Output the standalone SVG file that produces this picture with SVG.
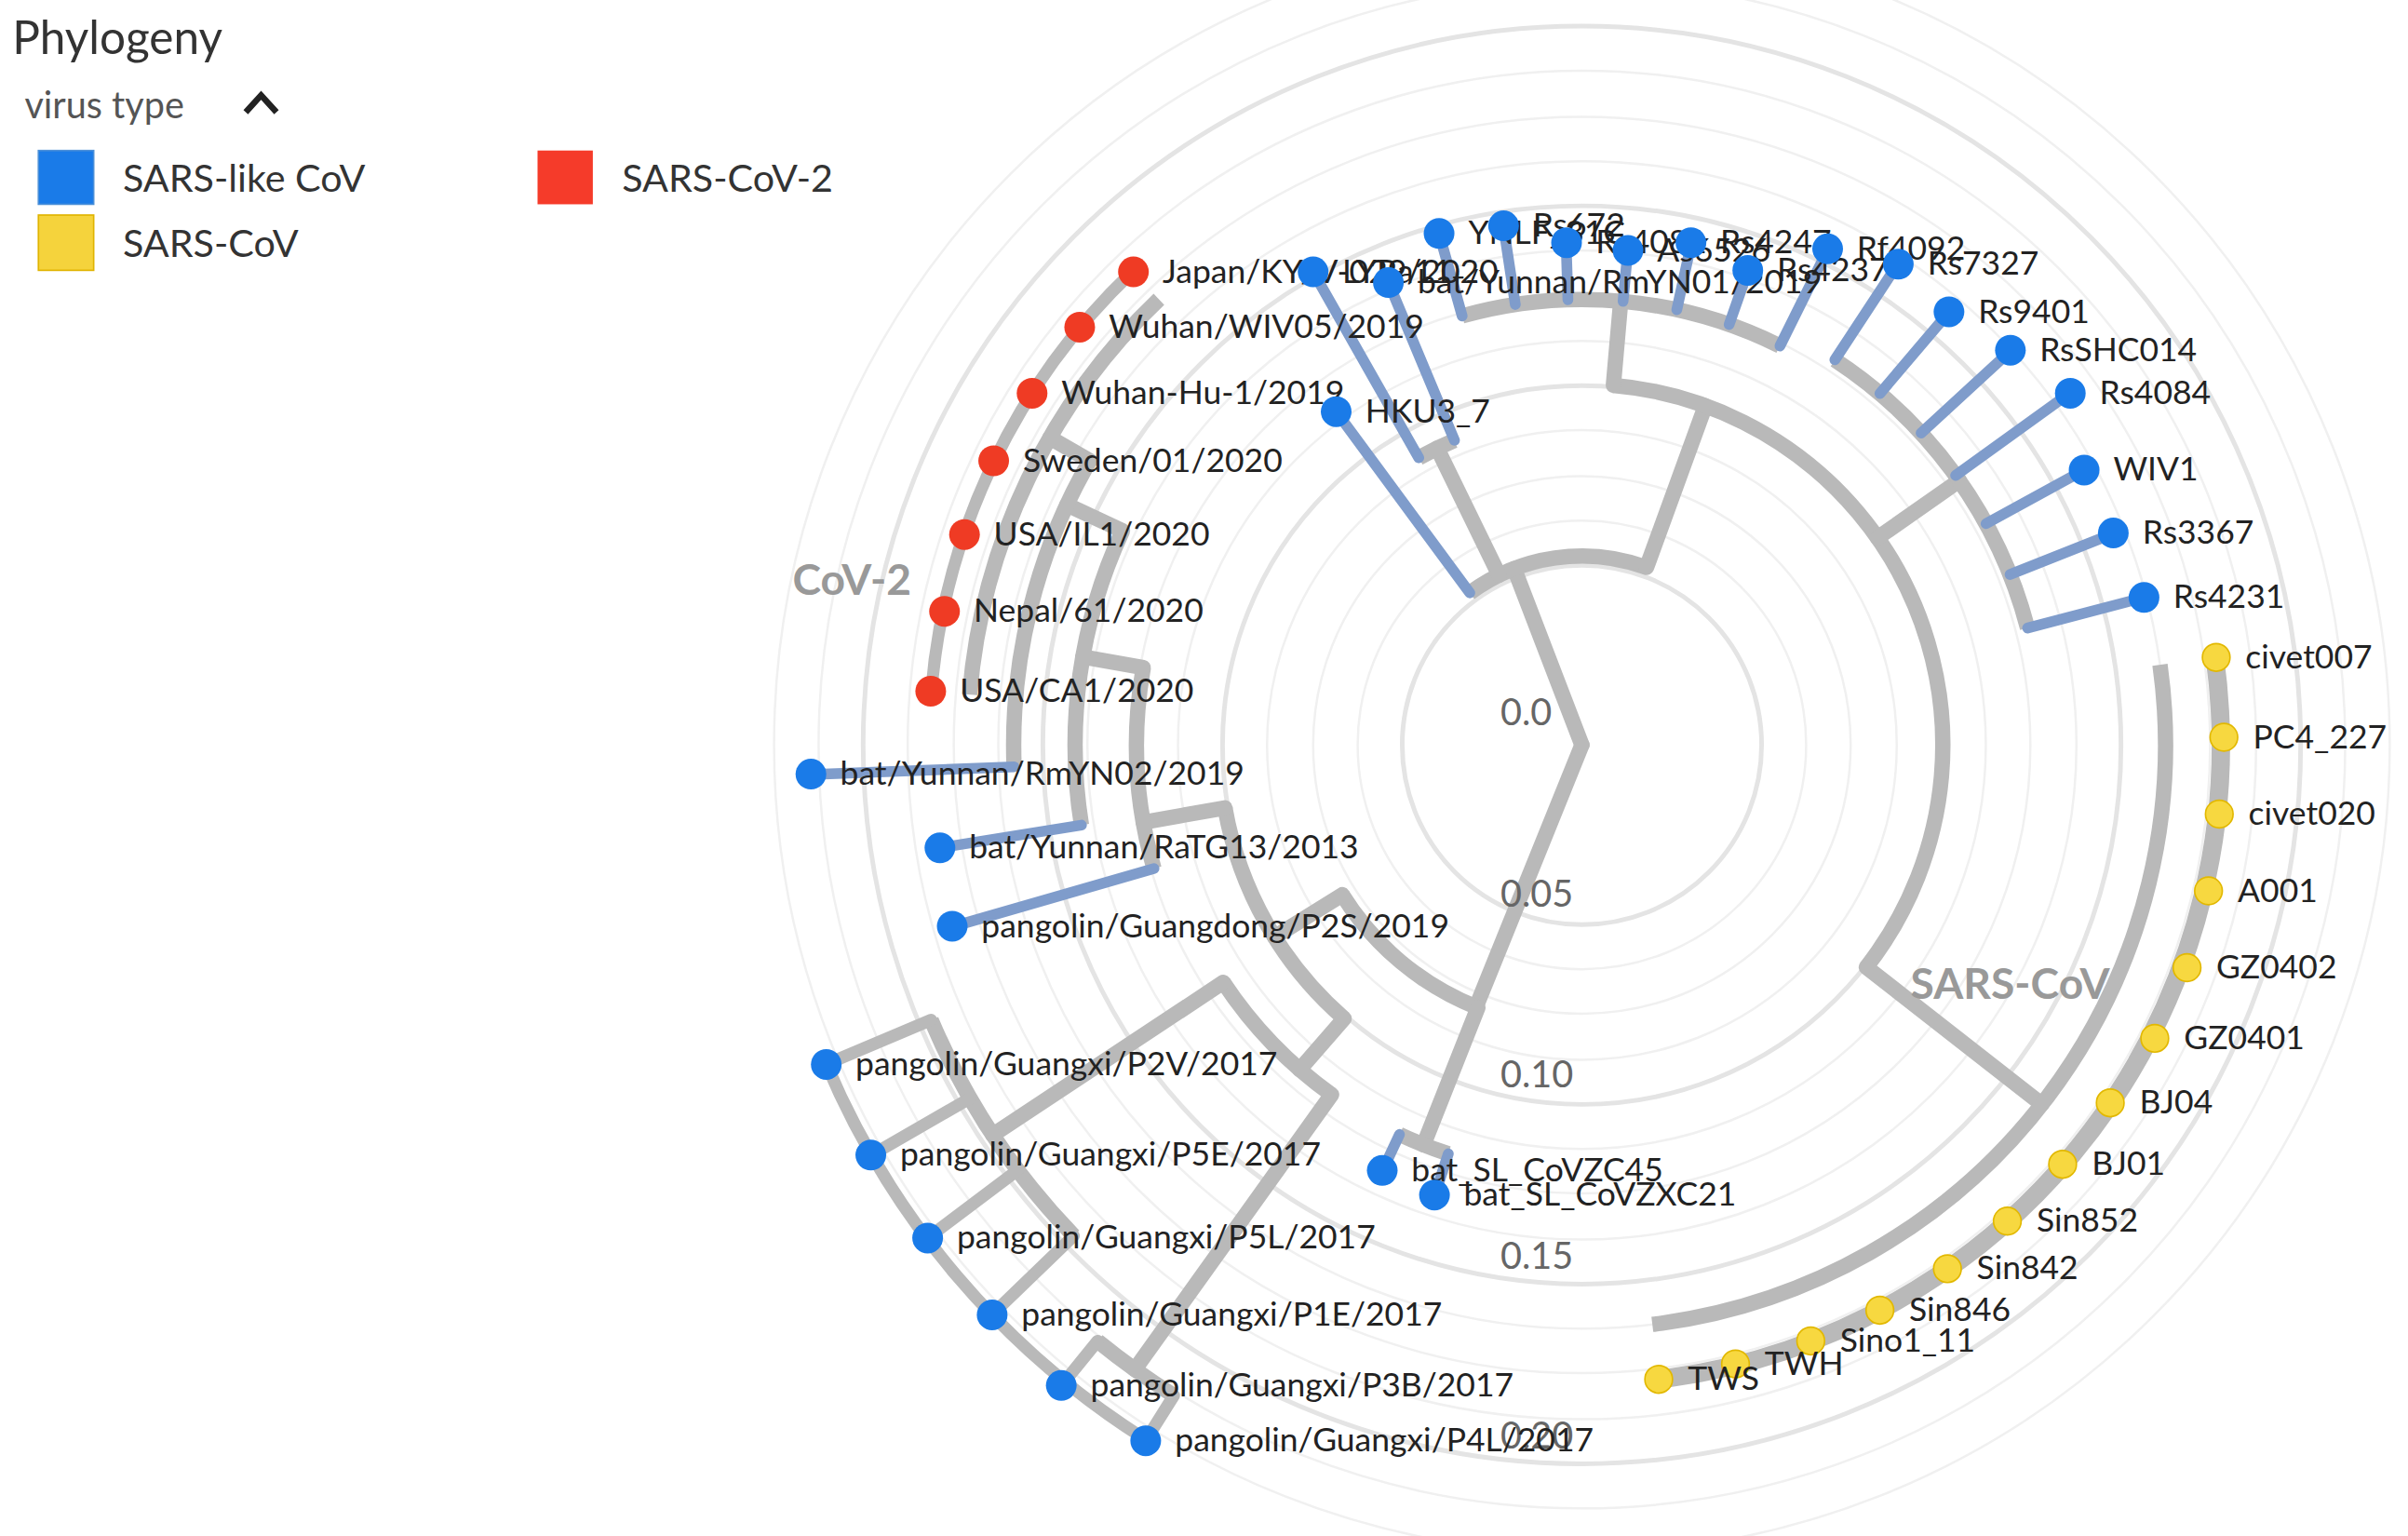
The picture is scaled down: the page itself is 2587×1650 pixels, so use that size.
<svg xmlns="http://www.w3.org/2000/svg" width="2587" height="1650" viewBox="0 0 2587 1650">
<style>
text{font-family:Lato,"Open Sans","Liberation Sans",sans-serif}
.lbl{font-size:21.5px;fill:#222}
.ax{font-size:24px;fill:#666}
.ring{fill:none;stroke:#e4e4e4;stroke-width:3}
.mring{fill:none;stroke:#f0f0f0;stroke-width:1.5}
.e{stroke:#b9b9b9;stroke-width:10;fill:none;stroke-linecap:round}
.arc{stroke:#b9b9b9;stroke-width:10;fill:none}
.eb{stroke:#7f9ccb;stroke-width:7;stroke-linecap:round}
.eg{stroke:#b9b9b9;stroke-width:8;stroke-linecap:round}
.b{fill:#1a7be8}
.r{fill:#ef3b24}
.y{fill:#f7d840;stroke:#e2b800;stroke-width:1}
</style>
<rect width="2587" height="1650" fill="#fff"/>
<g transform="scale(1.65)">
<g id="legend">
<text x="8" y="35" style="font-size:30px;fill:#333">Phylogeny</text>
<text x="16" y="77" style="font-size:24px;fill:#555">virus type</text>
<path d="M160 73 L170 62 L180 73" fill="none" stroke="#222" stroke-width="4"/>
<rect x="25" y="98" width="36" height="35" fill="#1a7be8" stroke="#4a8fd8"/>
<text x="80" y="125" style="font-size:25px;fill:#333">SARS-like CoV</text>
<rect x="350" y="98" width="36" height="35" fill="#f53b2a"/>
<text x="405" y="125" style="font-size:25px;fill:#333">SARS-CoV-2</text>
<rect x="25" y="140" width="36" height="36" fill="#f5d33c" stroke="#e0b400"/>
<text x="80" y="167" style="font-size:25px;fill:#333">SARS-CoV</text>
</g>
<g id="grid" transform="translate(1030,485)">
<circle class="ring" r="117"/><circle class="ring" r="234"/><circle class="ring" r="351"/><circle class="ring" r="468"/>
<circle class="mring" r="146"/><circle class="mring" r="175"/><circle class="mring" r="205"/>
<circle class="mring" r="263"/><circle class="mring" r="292"/><circle class="mring" r="322"/>
<circle class="mring" r="380"/><circle class="mring" r="409"/><circle class="mring" r="439"/>
<circle class="mring" r="497"/><circle class="mring" r="526"/>
</g>
<g id="connectors" transform="translate(1030,485)">
<line class="e" x1="0" x2="123" transform="rotate(-111)"/>
<line class="e" x1="0" x2="184" transform="rotate(112)"/>
<circle class="arc" r="123" pathLength="360" stroke-dasharray="56.4 1000" transform="rotate(-126.4)"/>
<line class="eb" x1="123" x2="270" transform="rotate(-126.4)"/>
<line class="e" x1="123" x2="215" transform="rotate(-116)"/>
<circle class="arc" r="215" pathLength="360" stroke-dasharray="6.9 1000" transform="rotate(-119.6)"/>
<line class="eb" x1="215" x2="354" transform="rotate(-119.6)"/>
<line class="eb" x1="215" x2="326" transform="rotate(-112.7)"/>
<line class="e" x1="123" x2="235" transform="rotate(-70)"/>
<circle class="arc" r="235" pathLength="360" stroke-dasharray="123 1000" transform="rotate(-85)"/>
<line class="e" x1="235" x2="290" transform="rotate(-85)"/>
<circle class="arc" r="290" pathLength="360" stroke-dasharray="42 1000" transform="rotate(-105.6)"/>
<line class="eb" x1="290" x2="346" transform="rotate(-105.6)"/>
<line class="eb" x1="290" x2="342" transform="rotate(-98.6)"/>
<line class="eb" x1="290" x2="327" transform="rotate(-91.8)"/>
<line class="eb" x1="290" x2="323" transform="rotate(-84.7)"/>
<line class="eb" x1="290" x2="335" transform="rotate(-77.7)"/>
<line class="eb" x1="290" x2="327" transform="rotate(-70.7)"/>
<line class="eb" x1="290" x2="360" transform="rotate(-63.6)"/>
<line class="e" x1="235" x2="300" transform="rotate(-35)"/>
<circle class="arc" r="300" pathLength="360" stroke-dasharray="42 1000" transform="rotate(-56.7)"/>
<line class="eb" x1="300" x2="375" transform="rotate(-56.7)"/>
<line class="eb" x1="300" x2="370" transform="rotate(-49.7)"/>
<line class="eb" x1="300" x2="379" transform="rotate(-42.6)"/>
<line class="eb" x1="300" x2="392" transform="rotate(-35.8)"/>
<line class="eb" x1="300" x2="373" transform="rotate(-28.7)"/>
<line class="eb" x1="300" x2="372" transform="rotate(-21.7)"/>
<line class="eb" x1="300" x2="378" transform="rotate(-14.7)"/>
<line class="e" x1="235" x2="380" transform="rotate(38)"/>
<circle class="arc" r="380" pathLength="360" stroke-dasharray="91 1000" transform="rotate(-7.9)"/>
<circle class="arc" r="416" pathLength="360" stroke-dasharray="91 1000" transform="rotate(-7.9)" style="stroke-width:12"/>
<circle class="arc" r="184" pathLength="360" stroke-dasharray="36.4 1000" transform="rotate(111.6)"/>
<line class="e" x1="184" x2="280" transform="rotate(111.6)"/>
<circle class="arc" r="280" pathLength="360" stroke-dasharray="7 1000" transform="rotate(108.1)"/>
<line class="eb" x1="280" x2="306" transform="rotate(115.1)"/>
<line class="eb" x1="280" x2="308" transform="rotate(108.1)"/>
<line class="e" x1="184" x2="236" transform="rotate(148)"/>
<circle class="arc" r="236" pathLength="360" stroke-dasharray="39 1000" transform="rotate(131)"/>
<line class="e" x1="236" x2="280" transform="rotate(131)"/>
<circle class="arc" r="280" pathLength="360" stroke-dasharray="20.9 1000" transform="rotate(125.6)"/>
<line class="e" x1="280" x2="500" transform="rotate(125.6)"/>
<circle class="arc" r="500" pathLength="360" stroke-dasharray="7 1000" transform="rotate(122.1)"/>
<line class="eg" x1="500" x2="537" transform="rotate(129.1)"/>
<line class="eg" x1="500" x2="535" transform="rotate(122.1)"/>
<line class="e" x1="280" x2="460" transform="rotate(146.5)"/>
<circle class="arc" r="460" pathLength="360" stroke-dasharray="21.1 1000" transform="rotate(136)"/>
<circle class="arc" r="534" pathLength="360" stroke-dasharray="35 1000" transform="rotate(122.1)" style="stroke-width:8"/>
<line class="eg" x1="460" x2="534" transform="rotate(157.1)"/>
<line class="eg" x1="460" x2="534" transform="rotate(150)"/>
<line class="eg" x1="460" x2="533" transform="rotate(143)"/>
<line class="eg" x1="460" x2="534" transform="rotate(136)"/>
<line class="e" x1="236" x2="290" transform="rotate(170)"/>
<circle class="arc" r="290" pathLength="360" stroke-dasharray="26.1 1000" transform="rotate(163.9)"/>
<line class="eb" x1="290" x2="427" transform="rotate(163.9)"/>
<line class="e" x1="290" x2="330" transform="rotate(190)"/>
<circle class="arc" r="330" pathLength="360" stroke-dasharray="34.1 1000" transform="rotate(170.9)"/>
<line class="eb" x1="330" x2="423" transform="rotate(170.9)"/>
<line class="e" x1="330" x2="370" transform="rotate(205)"/>
<circle class="arc" r="370" pathLength="360" stroke-dasharray="32.2 1000" transform="rotate(177.8)"/>
<line class="eb" x1="370" x2="502" transform="rotate(177.8)"/>
<line class="e" x1="370" x2="400" transform="rotate(210)"/>
<circle class="arc" r="400" pathLength="360" stroke-dasharray="41.8 1000" transform="rotate(184.7)"/>
<circle class="arc" r="425" pathLength="360" stroke-dasharray="41.8 1000" transform="rotate(184.7)" style="stroke-width:8"/>
</g>
<g id="axis">
<text class="ax" x="977" y="472">0.0</text>
<text class="ax" x="977" y="590">0.05</text>
<text class="ax" x="977" y="708">0.10</text>
<text class="ax" x="977" y="826">0.15</text>
<text class="ax" x="977" y="943">0.20</text>
<text x="516" y="387" style="font-size:28px;fill:#999;font-weight:bold">CoV-2</text>
<text x="1244" y="650" style="font-size:28px;fill:#999;font-weight:bold">SARS-CoV</text>
</g>
<g id="n-japan"><circle class="r" cx="738" cy="177" r="10"/><text class="lbl" x="757" y="184">Japan/KY/V-029/2020</text></g>
<g id="n-wiv05"><circle class="r" cx="703" cy="213" r="10"/><text class="lbl" x="722" y="220">Wuhan/WIV05/2019</text></g>
<g id="n-wuhanhu1"><circle class="r" cx="672" cy="256" r="10"/><text class="lbl" x="691" y="263">Wuhan-Hu-1/2019</text></g>
<g id="n-sweden"><circle class="r" cx="647" cy="300" r="10"/><text class="lbl" x="666" y="307">Sweden/01/2020</text></g>
<g id="n-usail1"><circle class="r" cx="628" cy="348" r="10"/><text class="lbl" x="647" y="355">USA/IL1/2020</text></g>
<g id="n-nepal"><circle class="r" cx="615" cy="398" r="10"/><text class="lbl" x="634" y="405">Nepal/61/2020</text></g>
<g id="n-usaca1"><circle class="r" cx="606" cy="450" r="10"/><text class="lbl" x="625" y="457">USA/CA1/2020</text></g>
<g id="n-rmyn02"><circle class="b" cx="528" cy="504" r="10"/><text class="lbl" x="547" y="511">bat/Yunnan/RmYN02/2019</text></g>
<g id="n-ratg13"><circle class="b" cx="612" cy="552" r="10"/><text class="lbl" x="631" y="559">bat/Yunnan/RaTG13/2013</text></g>
<g id="n-p2s"><circle class="b" cx="620" cy="603" r="10"/><text class="lbl" x="639" y="610">pangolin/Guangdong/P2S/2019</text></g>
<g id="n-p2v"><circle class="b" cx="538" cy="693" r="10"/><text class="lbl" x="557" y="700">pangolin/Guangxi/P2V/2017</text></g>
<g id="n-p5e"><circle class="b" cx="567" cy="752" r="10"/><text class="lbl" x="586" y="759">pangolin/Guangxi/P5E/2017</text></g>
<g id="n-p5l"><circle class="b" cx="604" cy="806" r="10"/><text class="lbl" x="623" y="813">pangolin/Guangxi/P5L/2017</text></g>
<g id="n-p1e"><circle class="b" cx="646" cy="856" r="10"/><text class="lbl" x="665" y="863">pangolin/Guangxi/P1E/2017</text></g>
<g id="n-p3b"><circle class="b" cx="691" cy="902" r="10"/><text class="lbl" x="710" y="909">pangolin/Guangxi/P3B/2017</text></g>
<g id="n-p4l"><circle class="b" cx="746" cy="938" r="10"/><text class="lbl" x="765" y="945">pangolin/Guangxi/P4L/2017</text></g>
<g id="n-zc45"><circle class="b" cx="900" cy="762" r="10"/><text class="lbl" x="919" y="769">bat_SL_CoVZC45</text></g>
<g id="n-zxc21"><circle class="b" cx="934" cy="778" r="10"/><text class="lbl" x="953" y="785">bat_SL_CoVZXC21</text></g>
<g id="n-hku3"><circle class="b" cx="870" cy="268" r="10"/><text class="lbl" x="889" y="275">HKU3_7</text></g>
<g id="n-lyra11"><circle class="b" cx="855" cy="177" r="10"/><text class="lbl" x="874" y="184">LYRa11</text></g>
<g id="n-rmyn01"><circle class="b" cx="904" cy="184" r="10"/><text class="lbl" x="923" y="191">bat/Yunnan/RmYN01/2019</text></g>
<g id="n-ynlf"><circle class="b" cx="937" cy="152" r="10"/><text class="lbl" x="956" y="159">YNLF_31C</text></g>
<g id="n-rs672"><circle class="b" cx="979" cy="147" r="10"/><text class="lbl" x="998" y="154">Rs672</text></g>
<g id="n-rs4081"><circle class="b" cx="1020" cy="158" r="10"/><text class="lbl" x="1039" y="165">Rs4081</text></g>
<g id="n-as6526"><circle class="b" cx="1060" cy="163" r="10"/><text class="lbl" x="1079" y="170">As6526</text></g>
<g id="n-rs4247"><circle class="b" cx="1101" cy="158" r="10"/><text class="lbl" x="1120" y="165">Rs4247</text></g>
<g id="n-rs4237"><circle class="b" cx="1138" cy="176" r="10"/><text class="lbl" x="1157" y="183">Rs4237</text></g>
<g id="n-rf4092"><circle class="b" cx="1190" cy="162" r="10"/><text class="lbl" x="1209" y="169">Rf4092</text></g>
<g id="n-rs7327"><circle class="b" cx="1236" cy="172" r="10"/><text class="lbl" x="1255" y="179">Rs7327</text></g>
<g id="n-rs9401"><circle class="b" cx="1269" cy="203" r="10"/><text class="lbl" x="1288" y="210">Rs9401</text></g>
<g id="n-rsshc014"><circle class="b" cx="1309" cy="228" r="10"/><text class="lbl" x="1328" y="235">RsSHC014</text></g>
<g id="n-rs4084"><circle class="b" cx="1348" cy="256" r="10"/><text class="lbl" x="1367" y="263">Rs4084</text></g>
<g id="n-wiv1"><circle class="b" cx="1357" cy="306" r="10"/><text class="lbl" x="1376" y="313">WIV1</text></g>
<g id="n-rs3367"><circle class="b" cx="1376" cy="347" r="10"/><text class="lbl" x="1395" y="354">Rs3367</text></g>
<g id="n-rs4231"><circle class="b" cx="1396" cy="389" r="10"/><text class="lbl" x="1415" y="396">Rs4231</text></g>
<g id="n-civet007"><circle class="y" cx="1443" cy="428" r="9"/><text class="lbl" x="1462" y="435">civet007</text></g>
<g id="n-pc4227"><circle class="y" cx="1448" cy="480" r="9"/><text class="lbl" x="1467" y="487">PC4_227</text></g>
<g id="n-civet020"><circle class="y" cx="1445" cy="530" r="9"/><text class="lbl" x="1464" y="537">civet020</text></g>
<g id="n-a001"><circle class="y" cx="1438" cy="580" r="9"/><text class="lbl" x="1457" y="587">A001</text></g>
<g id="n-gz0402"><circle class="y" cx="1424" cy="630" r="9"/><text class="lbl" x="1443" y="637">GZ0402</text></g>
<g id="n-gz0401"><circle class="y" cx="1403" cy="676" r="9"/><text class="lbl" x="1422" y="683">GZ0401</text></g>
<g id="n-bj04"><circle class="y" cx="1374" cy="718" r="9"/><text class="lbl" x="1393" y="725">BJ04</text></g>
<g id="n-bj01"><circle class="y" cx="1343" cy="758" r="9"/><text class="lbl" x="1362" y="765">BJ01</text></g>
<g id="n-sin852"><circle class="y" cx="1307" cy="795" r="9"/><text class="lbl" x="1326" y="802">Sin852</text></g>
<g id="n-sin842"><circle class="y" cx="1268" cy="826" r="9"/><text class="lbl" x="1287" y="833">Sin842</text></g>
<g id="n-sin846"><circle class="y" cx="1224" cy="853" r="9"/><text class="lbl" x="1243" y="860">Sin846</text></g>
<g id="n-sino111"><circle class="y" cx="1179" cy="873" r="9"/><text class="lbl" x="1198" y="880">Sino1_11</text></g>
<g id="n-twh"><circle class="y" cx="1130" cy="888" r="9"/><text class="lbl" x="1149" y="895">TWH</text></g>
<g id="n-tws"><circle class="y" cx="1080" cy="898" r="9"/><text class="lbl" x="1099" y="905">TWS</text></g>
</g>
</svg>
